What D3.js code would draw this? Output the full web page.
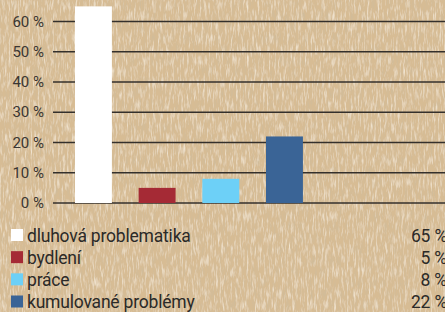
<!DOCTYPE html>
<html lang="cs">
<head>
<meta charset="UTF-8">
<title>Problémy</title>
<script src="https://d3js.org/d3.v7.min.js"></script>
<style>
  body { margin: 0; background: #d6bb92; }
  svg { display: block; }
  .tick-label { font-family: "Roboto", sans-serif; font-size: 15px; fill: #3a3632; }
  .legend-label { font-family: "Roboto", sans-serif; font-size: 17.5px; letter-spacing: -0.2px; fill: #2b2a28; }
</style>
</head>
<body>
<svg width="445" height="312"></svg>
<script>
const categories = ["dluhová problematika", "bydlení", "práce", "kumulované problémy"];
const values = [65, 5, 8, 22];
const colors = ["#ffffff", "#a52a35", "#6dd0f7", "#3a6496"];
const yTicks = [0, 10, 20, 30, 40, 50, 60];

const W = 445, H = 312;
const svg = d3.select("svg");

// paper texture: soft dark and light fibres from two noise channels
const defs = svg.append("defs");
const f = defs.append("filter").attr("id", "paper").attr("x", 0).attr("y", 0).attr("width", "100%").attr("height", "100%");
f.append("feTurbulence").attr("type", "fractalNoise").attr("baseFrequency", "0.55 0.09").attr("numOctaves", 3).attr("seed", 7).attr("result", "n");
f.append("feColorMatrix").attr("in", "n").attr("type", "matrix")
  .attr("values", "0 0 0 0 0.62  0 0 0 0 0.50  0 0 0 0 0.33  2.0 0 0 0 -0.95")
  .attr("result", "dark");
f.append("feColorMatrix").attr("in", "n").attr("type", "matrix")
  .attr("values", "0 0 0 0 0.90  0 0 0 0 0.81  0 0 0 0 0.67  0 2.0 0 0 -0.95")
  .attr("result", "light");
f.append("feMerge").call(m => {
  m.append("feMergeNode").attr("in", "SourceGraphic");
  m.append("feMergeNode").attr("in", "dark");
  m.append("feMergeNode").attr("in", "light");
});

svg.append("rect").attr("width", W).attr("height", H).attr("fill", "#d7bc94").attr("filter", "url(#paper)");

const y = d3.scaleLinear().domain([0, 60]).range([203, 21.5]);
const x = d3.scaleBand().domain(categories).range([61.6, 316.3]).paddingInner(0.42).paddingOuter(0.21);

// grid lines
svg.append("g").selectAll("line").data(yTicks).join("line")
  .attr("x1", 53).attr("x2", W)
  .attr("y1", d => y(d)).attr("y2", d => y(d))
  .attr("stroke", "#34302c").attr("stroke-width", 1.6);

// tick labels
svg.append("g").selectAll("text").data(yTicks).join("text")
  .attr("class", "tick-label")
  .attr("x", 44).attr("y", d => y(d) + 5)
  .attr("text-anchor", "end")
  .text(d => d + " %");

// bars
svg.append("g").selectAll("rect").data(values).join("rect")
  .attr("x", (d, i) => x(categories[i]))
  .attr("width", x.bandwidth())
  .attr("y", d => y(d))
  .attr("height", d => y(0) - y(d))
  .attr("fill", (d, i) => colors[i]);

// legend
const ly = d3.scalePoint().domain(categories).range([235, 301.5]);
const lg = svg.append("g").selectAll("g").data(categories).join("g")
  .attr("transform", d => `translate(0,${ly(d)})`);
lg.append("rect").attr("x", 11).attr("y", -6).attr("width", 12).attr("height", 12)
  .attr("fill", (d, i) => colors[i]);
lg.append("text").attr("class", "legend-label").attr("x", 27).attr("y", 6.5).text(d => d);
lg.append("text").attr("class", "legend-label").attr("x", 447).attr("y", 6.5)
  .attr("text-anchor", "end").text((d, i) => values[i] + " %");
</script>
</body>
</html>
